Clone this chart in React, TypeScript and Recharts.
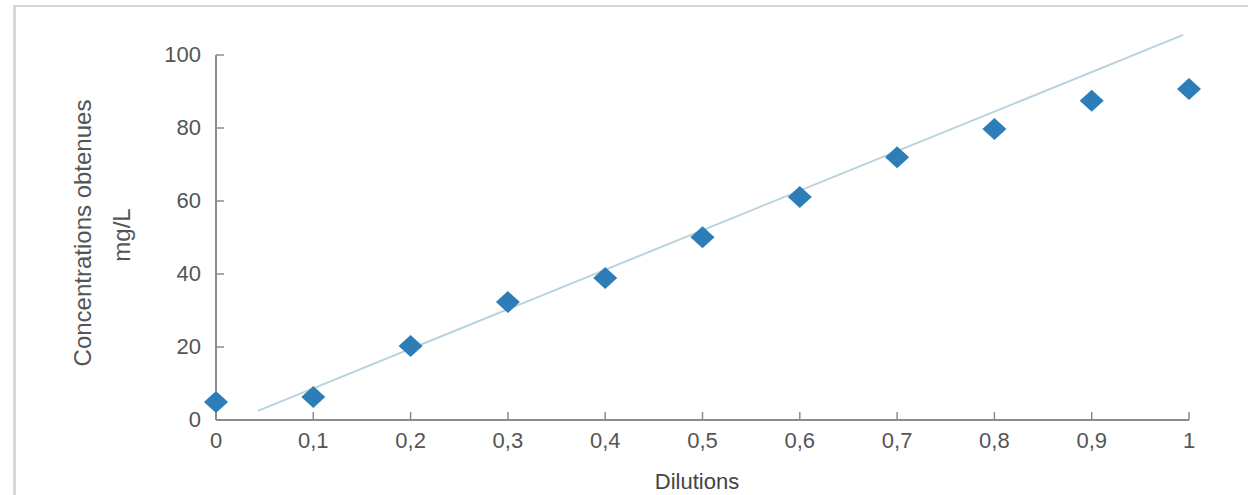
import { ComposedChart, Scatter, XAxis, YAxis, ReferenceLine } from "recharts";

const dilutions = [0, 0.1, 0.2, 0.3, 0.4, 0.5, 0.6, 0.7, 0.8, 0.9, 1];
const concentrations = [4.9, 6.3, 20.3, 32.3, 38.9, 50.1, 61.1, 72, 79.7, 87.5, 90.7];
const yTicks = [0, 20, 40, 60, 80, 100];
// trend line end points
const trendX = [0.043, 0.994];
const trendY = [2.5, 105.5];

const points = dilutions.map((d, i) => ({ dilution: d, concentration: concentrations[i] }));

const FONT = "'Liberation Sans', Arial, sans-serif";
const AXIS = "#8c8c8c";
const TEXT = "#555";

const fmt = (v: number) => String(v).replace(".", ",");

function XTick({ x, y, payload }: any) {
  return (
    <g>
      {payload.value !== 0 && <line x1={x} y1={y} x2={x} y2={y - 8} stroke={AXIS} strokeWidth={1.5} />}
      <text x={x} y={y + 28} textAnchor="middle" fill={TEXT} fontSize={22} fontFamily={FONT}>
        {fmt(payload.value)}
      </text>
    </g>
  );
}

function YTick({ x, y, payload }: any) {
  return (
    <g>
      {payload.value !== 0 && <line x1={x} y1={y} x2={x + 8} y2={y} stroke={AXIS} strokeWidth={1.5} />}
      <text x={x - 15} y={y + 7} textAnchor="end" fill={TEXT} fontSize={22} fontFamily={FONT}>
        {payload.value}
      </text>
    </g>
  );
}

function Diamond({ cx, cy }: any) {
  return (
    <polygon
      points={`${cx - 12},${cy} ${cx},${cy - 11} ${cx + 12},${cy} ${cx},${cy + 11}`}
      fill="#2c7db8"
    />
  );
}

export default function App() {
  return (
    <div style={{ position: "absolute", left: 0, top: 0, width: 1248, height: 495, background: "#fff", overflow: "hidden" }}>
      <div
        style={{
          position: "absolute",
          left: 13,
          top: 5,
          width: 1300,
          height: 560,
          borderTop: "2px solid #cfdadd",
          borderLeft: "3px solid #cfdadd",
        }}
      />
      <div style={{ position: "absolute", left: 0, top: 0 }}>
        <ComposedChart width={1248} height={495} data={points} margin={{ top: 55, right: 59, bottom: 74, left: 215 }}>
          <XAxis
            dataKey="dilution"
            type="number"
            domain={[0, 1]}
            ticks={dilutions}
            height={1}
            tickSize={0}
            tickMargin={0}
            tick={<XTick />}
            axisLine={{ stroke: AXIS, strokeWidth: 2 }}
            interval={0}
          />
          <YAxis
            dataKey="concentration"
            type="number"
            domain={[0, 100]}
            ticks={yTicks}
            width={1}
            tickSize={0}
            tickMargin={0}
            tick={<YTick />}
            axisLine={{ stroke: AXIS, strokeWidth: 2 }}
            interval={0}
          />
          <ReferenceLine
            segment={[
              { x: trendX[0], y: trendY[0] },
              { x: trendX[1], y: trendY[1] },
            ]}
            stroke="#b9d3dc"
            strokeWidth={2}
            ifOverflow="visible"
          />
          <Scatter dataKey="concentration" shape={<Diamond />} isAnimationActive={false} />
        </ComposedChart>
      </div>
      <div
        style={{
          position: "absolute",
          left: 83,
          top: 233,
          transform: "translate(-50%, -50%) rotate(-90deg)",
          whiteSpace: "nowrap",
          fontSize: 24,
          fontFamily: FONT,
          color: TEXT,
        }}
      >
        Concentrations obtenues
      </div>
      <div
        style={{
          position: "absolute",
          left: 122,
          top: 235,
          transform: "translate(-50%, -50%) rotate(-90deg)",
          whiteSpace: "nowrap",
          fontSize: 24,
          fontFamily: FONT,
          color: TEXT,
        }}
      >
        mg/L
      </div>
      <div
        style={{
          position: "absolute",
          left: 697,
          top: 482,
          transform: "translate(-50%, -50%)",
          whiteSpace: "nowrap",
          fontSize: 22,
          lineHeight: "22px",
          fontFamily: FONT,
          color: "#444",
        }}
      >
        Dilutions
      </div>
    </div>
  );
}
